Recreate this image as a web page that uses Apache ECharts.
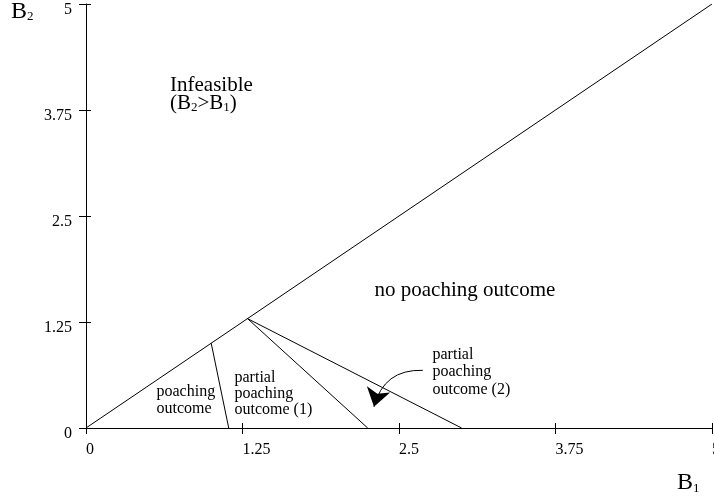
<!DOCTYPE html>
<html>
<head>
<meta charset="utf-8">
<script src="https://cdn.jsdelivr.net/npm/echarts@6/dist/echarts.min.js"></script>
<style>
html,body{margin:0;padding:0;background:#fff;}
#chart{width:714px;height:504px;}
</style>
</head>
<body>
<div id="chart"></div>
<script>
// ---- data ----
const axisMin = 0;
const axisMax = 5;
const tickStep = 1.25;
const tickLabels = ['0', '1.25', '2.5', '3.75', '5'];
const feasibilityBoundary = [[0, 0], [5, 5]];
const poachingBoundary = [[1.0, 1.0], [1.14, 0]];
const partial1Boundary = [[1.29, 1.29], [2.25, 0]];
const partial2Boundary = [[1.29, 1.29], [3.0, 0]];
const arrowFrom = [2.69, 0.68];
const arrowTo = [2.30, 0.25];

const FONT = '"Liberation Serif", "Times New Roman", serif';

function tickFmt(v) {
  const idx = Math.round((v - axisMin) / tickStep);
  return tickLabels[idx] !== undefined ? tickLabels[idx] : '';
}

const chart = echarts.init(document.getElementById('chart'));

function seg(data) {
  return {
    type: 'line', data: data, showSymbol: false, symbol: 'none',
    lineStyle: { color: '#000', width: 1 }, silent: true, animation: false,
    xAxisIndex: 0, yAxisIndex: 0
  };
}

const lineSeries = [
  seg(feasibilityBoundary),
  seg(poachingBoundary),
  seg(partial1Boundary),
  seg(partial2Boundary),
  {
    type: 'lines',
    coordinateSystem: 'cartesian2d',
    xAxisIndex: 0, yAxisIndex: 0,
    silent: true, animation: false,
    symbol: ['none', 'arrow'],
    symbolSize: [13, 18],
    lineStyle: { color: '#000', width: 1, type: 'solid', curveness: -0.4, opacity: 1 },
    itemStyle: { color: '#000' },
    data: [{ coords: [arrowFrom, arrowTo] }]
  }
];

const baseAxis = {
  type: 'value', min: axisMin, max: axisMax, interval: tickStep,
  splitLine: { show: false }
};

const option = {
  backgroundColor: '#fff',
  animation: false,
  grid: { left: 86, right: 2, top: 4, bottom: 76, containLabel: false, outerBoundsMode: 'none' },
  xAxis: [
    Object.assign({}, baseAxis, {
      position: 'bottom',
      axisLine: { show: true, lineStyle: { color: '#000', width: 1 } },
      axisTick: { show: true, length: 6, lineStyle: { color: '#000', width: 1 } },
      axisLabel: { formatter: tickFmt, align: 'left', margin: 14, color: '#000',
        fontFamily: FONT, fontSize: 16, showMaxLabel: true, showMinLabel: true }
    }),
    Object.assign({}, baseAxis, {
      position: 'bottom',
      axisLine: { show: false },
      axisTick: { show: true, inside: true, length: 5, lineStyle: { color: '#000', width: 1 } },
      axisLabel: { show: false }
    })
  ],
  yAxis: [
    Object.assign({}, baseAxis, {
      position: 'left',
      axisLine: { show: true, lineStyle: { color: '#000', width: 1 } },
      axisTick: { show: true, length: 7, lineStyle: { color: '#000', width: 1 } },
      axisLabel: {
        formatter: function (v) { return '\n' + tickFmt(v); },
        margin: 14, color: '#000', lineHeight: 11,
        fontFamily: FONT, fontSize: 16, showMaxLabel: true, showMinLabel: true
      }
    }),
    Object.assign({}, baseAxis, {
      position: 'left',
      axisLine: { show: false },
      axisTick: { show: true, inside: true, length: 5, lineStyle: { color: '#000', width: 1 } },
      axisLabel: { show: false }
    })
  ],
  series: lineSeries,
  graphic: [
    { type: 'text', left: 11, top: -0.5, silent: true,
      style: { text: '{b|B}{s|2}', fill: '#000', fontFamily: FONT,
        rich: {
          b: { fontFamily: FONT, fontSize: 24, lineHeight: 24, padding: [0, 0, 3, 0], verticalAlign: 'top', fill: '#000' },
          s: { fontFamily: FONT, fontSize: 13, lineHeight: 13, verticalAlign: 'bottom', fill: '#000' }
        } } },
    { type: 'text', left: 677, top: 471, silent: true,
      style: { text: '{b|B}{s|1}', fill: '#000', fontFamily: FONT,
        rich: {
          b: { fontFamily: FONT, fontSize: 24, lineHeight: 24, padding: [0, 0, 3, 0], verticalAlign: 'top', fill: '#000' },
          s: { fontFamily: FONT, fontSize: 13, lineHeight: 13, verticalAlign: 'bottom', fill: '#000' }
        } } },
    { type: 'text', left: 170, top: 74.6, silent: true,
      style: { text: 'Infeasible', fill: '#000', fontFamily: FONT, fontSize: 21, lineHeight: 21 } },
    { type: 'text', left: 170, top: 92.6, silent: true,
      style: { text: '{b|(B}{s|2}{b|>B}{s|1}{b|)}', fill: '#000', fontFamily: FONT,
        rich: {
          b: { fontFamily: FONT, fontSize: 21, lineHeight: 21, padding: [0, 0, 3, 0], verticalAlign: 'top', fill: '#000' },
          s: { fontFamily: FONT, fontSize: 13, lineHeight: 13, verticalAlign: 'bottom', fill: '#000' }
        } } },
    { type: 'text', left: 374.5, top: 279.6, silent: true,
      style: { text: 'no poaching outcome', fill: '#000', fontFamily: FONT, fontSize: 21, lineHeight: 21 } },
    { type: 'text', left: 156.5, top: 382.7, silent: true,
      style: { text: 'poaching\noutcome', fill: '#000', fontFamily: FONT, fontSize: 16, lineHeight: 17.3 } },
    { type: 'text', left: 234.5, top: 369.3, silent: true,
      style: { text: 'partial\npoaching\noutcome (1)', fill: '#000', fontFamily: FONT, fontSize: 16, lineHeight: 16.2 } },
    { type: 'text', left: 432.5, top: 346, silent: true,
      style: { text: 'partial\npoaching\noutcome (2)', fill: '#000', fontFamily: FONT, fontSize: 16, lineHeight: 17.5 } }
  ]
};

chart.setOption(option);
</script>
</body>
</html>
